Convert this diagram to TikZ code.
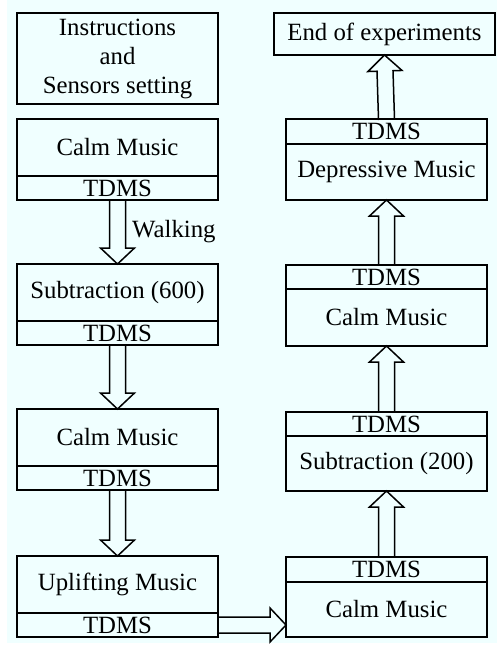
\documentclass[tikz,border=0pt]{standalone}
\usepackage{fontspec}
\setmainfont{Liberation Serif}
\usetikzlibrary{positioning,calc}
\definecolor{bgcyan}{RGB}{240,255,255}
\tikzset{
  stage/.style={rectangle, draw, line width=1.5pt, outer sep=0pt, inner sep=0pt,
                minimum width=201pt, minimum height=57pt, align=center,
                font=\fontsize{24.8}{29}\selectfont},
  tdms/.style={stage, minimum height=24pt},
  lbl/.style={font=\fontsize{24.8}{29}\selectfont, inner sep=0pt},
  blockarrow/.style={draw, line width=1.5pt, line join=miter, to path={
    let \p1=($(\tikztotarget)!16pt!(\tikztostart)$) in
    ($(\tikztostart)!8pt!90:(\tikztotarget)$) -- ($(\p1)!8pt!90:(\tikztotarget)$)
    -- ($(\p1)!17pt!90:(\tikztotarget)$) -- (\tikztotarget)
    -- ($(\p1)!17pt!-90:(\tikztotarget)$) -- ($(\p1)!8pt!-90:(\tikztotarget)$)
    -- ($(\tikztostart)!8pt!-90:(\tikztotarget)$) -- cycle}},
}
\begin{document}
\begin{tikzpicture}[x=1pt,y=-1pt]
  \useasboundingbox (0,0) rectangle (497,650);
  \fill[bgcyan] (7,0) rectangle (497,643);
  % left column
  \node[stage, anchor=north west, minimum height=91pt] (instr) at (17,13) {Instructions\\and\\Sensors setting};
  \node[stage, anchor=north west] (calm1) at (17,119) {Calm Music};
  \node[tdms, below=0pt of calm1] (calm1T) {TDMS};
  \node[stage, anchor=north west] (sub1) at (17,264) {Subtraction (600)};
  \node[tdms, below=0pt of sub1] (sub1T) {TDMS};
  \node[stage, anchor=north west] (calm2) at (17,409) {Calm Music};
  \node[tdms, below=0pt of calm2] (calm2T) {TDMS};
  \node[stage, anchor=north west] (upl) at (17,556) {Uplifting Music};
  \node[tdms, below=0pt of upl] (uplT) {TDMS};
  % right column
  \node[stage, anchor=north west, minimum width=221pt, minimum height=42pt] (endexp) at (274,13) {End of experiments};
  \node[tdms, anchor=north west, minimum height=25pt] (depT) at (286,119) {TDMS};
  \node[stage, below=0pt of depT, minimum height=56pt] (dep) {Depressive Music};
  \node[tdms, anchor=north west] (calmRT) at (286,265) {TDMS};
  \node[stage, below=0pt of calmRT] (calmR) {Calm Music};
  \node[tdms, anchor=north west] (sub2T) at (286,412) {TDMS};
  \node[stage, below=0pt of sub2T, minimum height=55pt] (sub2) {Subtraction (200)};
  \node[tdms, anchor=north west, minimum height=25pt] (calmDT) at (286,557) {TDMS};
  \node[stage, below=0pt of calmDT, minimum height=55pt] (calmD) {Calm Music};
  % arrows
  \draw[blockarrow] (calm1T.south) to (sub1.north);
  \node[lbl, anchor=base west] (walk) at (132,237) {Walking};
  \draw[blockarrow] (sub1T.south) to (calm2.north);
  \draw[blockarrow] (calm2T.south) to (upl.north);
  \coordinate (harr) at (calmD.west |- uplT.east);
  \draw[blockarrow] (uplT.east) to (harr);
  \draw[blockarrow] (calmDT.north) to (sub2.south);
  \draw[blockarrow] (sub2T.north) to (calmR.south);
  \draw[blockarrow] (calmRT.north) to (dep.south);
  \draw[blockarrow] (depT.north) to (endexp.south);
\end{tikzpicture}
\end{document}
